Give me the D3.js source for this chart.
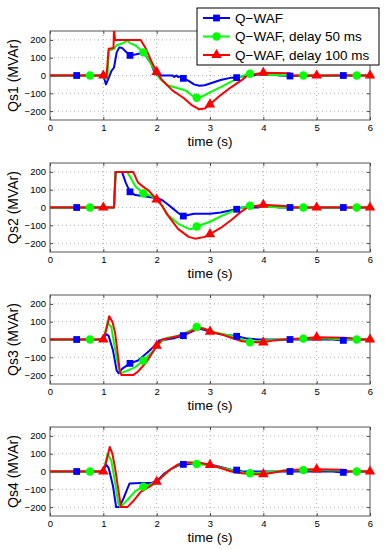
<!DOCTYPE html>
<html lang="en">
    <head>
        <meta charset="utf-8"/>
        <script src="https://d3js.org/d3.v7.min.js"></script>
        <style>
            body { margin: 0; background: #fff; }
            text { font-family: "Liberation Sans", Arial, sans-serif; fill: #000; }
        </style>
    </head>
    <body>
        <div id="chart"></div>
    </body>
    <script>
        // values, [time (s), Q (MVAr)]
        var seriesNames = ["Q\u2212WAF", "Q\u2212WAF, delay 50 ms", "Q\u2212WAF, delay 100 ms"];
        var panelLabels = ["Qs1 (MVAr)", "Qs2 (MVAr)", "Qs3 (MVAr)", "Qs4 (MVAr)"];
        var xTicks = [0, 1, 2, 3, 4, 5, 6];
        var yTicks = [-200, -100, 0, 100, 200];
        var blueMarks = [0.5, 1.5, 2.5, 3.5, 4.5, 5.5];
        var greenMarks = [0.75, 1.75, 2.75, 3.75, 4.75, 5.75];
        var redMarks = [1, 2, 3, 4, 5, 6];

        var qs1Blue = [[0,0],[0.5,0],[1.0,0],[1.05,-50],[1.1,-15],[1.15,25],[1.2,45],[1.25,130],[1.3,158],[1.35,155],[1.4,140],[1.5,113],[1.6,118],[1.7,125],[1.8,110],[1.9,65],[1.95,25],[2.0,2],[2.05,0],[2.3,0],[2.33,-8],[2.37,0],[2.4,-8],[2.45,-5],[2.5,-16],[2.6,-30],[2.7,-50],[2.8,-58],[2.9,-55],[3.0,-45],[3.2,-25],[3.4,-12],[3.5,-12],[3.6,-5],[3.8,0],[3.9,5],[4.2,5],[4.3,0],[4.5,-3],[5.5,0],[6,0]];
        var qs1Green = [[0,0],[0.75,0],[1.0,0],[1.05,-20],[1.08,0],[1.1,140],[1.2,150],[1.25,170],[1.35,180],[1.45,195],[1.5,182],[1.6,170],[1.75,130],[1.85,90],[1.95,35],[2.05,-15],[2.2,-55],[2.4,-72],[2.55,-85],[2.65,-110],[2.75,-125],[2.85,-118],[3.0,-95],[3.2,-65],[3.4,-35],[3.6,-5],[3.7,8],[3.75,10],[4.0,5],[4.3,3],[4.35,0],[4.75,0],[5.75,0],[6,0]];
        var qs1Red = [[0,0],[1.0,0],[1.03,-10],[1.06,0],[1.1,150],[1.19,155],[1.2,260],[1.22,200],[1.5,200],[1.7,200],[1.8,150],[1.9,80],[2.0,20],[2.1,-25],[2.3,-85],[2.5,-125],[2.65,-165],[2.8,-190],[2.9,-186],[3.0,-162],[3.2,-110],[3.4,-65],[3.6,-25],[3.7,0],[4.0,15],[4.5,12],[4.55,0],[5,0],[6,0]];

        var qs2Blue = [[0,0],[0.5,0],[1.2,0],[1.23,200],[1.35,200],[1.42,140],[1.5,88],[1.6,70],[1.8,62],[2.0,52],[2.1,42],[2.2,20],[2.3,-5],[2.4,-30],[2.5,-48],[2.7,-35],[3.0,-35],[3.2,-28],[3.4,-15],[3.5,-10],[3.6,0],[3.9,0],[4.0,8],[4.2,5],[4.3,0],[4.5,0],[5.5,0],[6,0]];
        var qs2Green = [[0,0],[0.75,0],[1.2,0],[1.23,200],[1.45,200],[1.6,120],[1.75,79],[1.9,65],[2.0,45],[2.1,10],[2.2,-40],[2.4,-90],[2.6,-120],[2.65,-122],[2.75,-107],[3.0,-80],[3.2,-50],[3.5,-10],[3.7,5],[3.75,10],[4.0,5],[4.3,0],[4.75,0],[5.75,0],[6,0]];
        var qs2Red = [[0,0],[1.0,0],[1.2,0],[1.23,200],[1.56,200],[1.65,140],[1.75,116],[1.85,95],[2.0,45],[2.1,10],[2.2,-40],[2.4,-120],[2.6,-165],[2.72,-175],[2.9,-165],[3.0,-150],[3.2,-115],[3.4,-70],[3.6,-20],[3.7,0],[4.0,15],[4.3,10],[4.5,5],[4.55,0],[5,0],[6,0]];

        var qs3Blue = [[0,0],[0.5,0],[1.0,0],[1.05,30],[1.1,20],[1.18,-60],[1.25,-175],[1.29,-190],[1.35,-165],[1.5,-134],[1.65,-118],[1.8,-80],[1.95,-40],[2.05,-5],[2.3,5],[2.5,22],[2.7,50],[2.8,62],[3.0,45],[3.2,30],[3.5,18],[3.7,5],[3.9,0],[4.5,0],[5.3,0],[5.5,-5],[5.6,0],[6,0]];
        var qs3Green = [[0,0],[0.75,0],[1.0,0],[1.08,95],[1.15,70],[1.2,-20],[1.28,-150],[1.32,-190],[1.45,-175],[1.6,-155],[1.75,-119],[1.95,-60],[2.1,-8],[2.2,10],[2.4,20],[2.6,45],[2.75,70],[2.9,60],[3.1,40],[3.4,20],[3.6,0],[3.75,-16],[4.0,-5],[4.3,0],[4.75,5],[5.2,5],[5.5,0],[5.75,0],[6,0]];
        var qs3Red = [[0,0],[1.0,0],[1.06,60],[1.11,131],[1.17,100],[1.22,40],[1.27,-80],[1.31,-180],[1.34,-200],[1.56,-200],[1.65,-180],[1.8,-130],[1.95,-60],[2.0,-35],[2.1,0],[2.2,5],[2.4,20],[2.6,40],[2.8,65],[2.9,60],[3.0,44],[3.2,30],[3.4,10],[3.5,0],[3.6,-10],[3.8,-15],[4.0,-16],[4.2,-5],[4.4,0],[4.7,5],[5.0,12],[5.5,10],[5.7,5],[5.8,0],[6,0]];

        var qs4Blue = [[0,0],[0.5,0],[1.0,0],[1.05,40],[1.1,20],[1.18,-80],[1.24,-200],[1.3,-200],[1.38,-150],[1.49,-68],[1.7,-65],[1.9,-65],[2.0,-55],[2.15,-10],[2.25,10],[2.45,40],[2.5,40],[2.7,45],[3.0,40],[3.2,25],[3.4,10],[3.5,8],[3.6,0],[4.5,0],[5.3,0],[5.5,-5],[5.6,0],[6,0]];
        var qs4Green = [[0,0],[0.75,0],[1.0,0],[1.08,100],[1.15,60],[1.22,-60],[1.28,-180],[1.32,-200],[1.45,-160],[1.6,-110],[1.75,-85],[1.9,-70],[2.05,-45],[2.25,10],[2.45,45],[2.6,50],[2.75,42],[3.0,35],[3.3,15],[3.5,0],[3.7,-10],[3.75,-10],[4.0,-5],[4.4,5],[4.75,8],[5.5,5],[5.75,0],[6,0]];
        var qs4Red = [[0,0],[1.0,0],[1.06,60],[1.12,138],[1.17,100],[1.22,20],[1.28,-100],[1.33,-200],[1.45,-200],[1.55,-170],[1.7,-115],[1.85,-88],[2.0,-58],[2.1,-30],[2.25,10],[2.4,40],[2.6,50],[2.8,50],[3.0,37],[3.2,20],[3.4,0],[3.6,-10],[3.8,-15],[4.0,-15],[4.2,-5],[4.4,5],[4.6,10],[5.0,12],[5.5,10],[5.6,0],[6,0]];

        var panels = [
            [qs1Blue, qs1Green, qs1Red],
            [qs2Blue, qs2Green, qs2Red],
            [qs3Blue, qs3Green, qs3Red],
            [qs4Blue, qs4Green, qs4Red]
        ];
        var markTimes = [blueMarks, greenMarks, redMarks];
        var colors = ["#0000ff", "#00ff00", "#ff0000"];
        var symbols = [d3.symbolSquare, d3.symbolCircle, d3.symbolTriangle];
        var symbolSizes = [46, 55, 48];

        var width = 388, height = 550;
        var left = 50, plotW = 320, plotH = 89;
        var tops = [31, 163, 295, 427];

        var svg = d3.select("#chart")
            .append("svg")
                .attr("width", width)
                .attr("height", height)

        var x = d3.scaleLinear()
            .domain([0, 6])
            .range([0, plotW])

        var y = d3.scaleLinear()
            .domain([-250, 250])
            .range([plotH, 0])

        var line = d3.line()
            .x(function (d) { return x(d[0]); })
            .y(function (d) { return y(d[1]); })

        svg.append("defs").append("clipPath")
            .attr("id", "plotclip")
            .append("rect")
                .attr("width", plotW)
                .attr("height", plotH)

        panels.forEach(function (series, p) {
            var g = svg.append("g")
                .attr("transform", "translate(" + left + "," + tops[p] + ")")

            // dotted grid
            g.append("g").selectAll("line")
                .data(xTicks.slice(1, -1))
                .enter().append("line")
                .attr("x1", function (d) { return x(d); })
                .attr("x2", function (d) { return x(d); })
                .attr("y1", 0).attr("y2", plotH)
                .attr("stroke", "#b0b0b0")
                .attr("stroke-dasharray", "1,3")
            g.append("g").selectAll("line")
                .data(yTicks)
                .enter().append("line")
                .attr("y1", function (d) { return y(d); })
                .attr("y2", function (d) { return y(d); })
                .attr("x1", 0).attr("x2", plotW)
                .attr("stroke", "#b0b0b0")
                .attr("stroke-dasharray", "1,3")

            g.append("g")
                .attr("transform", "translate(0," + plotH + ")")
                .call(d3.axisBottom(x).tickValues(xTicks).tickSize(-3).tickPadding(4)
                    .tickFormat(d3.format("d")))
            g.append("g")
                .call(d3.axisLeft(y).tickValues(yTicks).tickSize(-3).tickPadding(4)
                    .tickFormat(function (d) { return d < 0 ? "\u2212" + Math.abs(d) : d; }))
            g.append("g")
                .call(d3.axisTop(x).tickValues(xTicks).tickSize(-3).tickFormat(""))
            g.append("g")
                .attr("transform", "translate(" + plotW + ",0)")
                .call(d3.axisRight(y).tickValues(yTicks).tickSize(-3).tickFormat(""))
            g.selectAll(".domain").remove()
            g.selectAll(".tick line").attr("stroke", "#444")
            g.selectAll(".tick text").style("font-size", "9.5px").style("font-family", "'Liberation Sans', Arial, sans-serif")

            g.append("rect")
                .attr("width", plotW)
                .attr("height", plotH)
                .attr("fill", "none")
                .attr("stroke", "#555")

            var plot = g.append("g").attr("clip-path", "url(#plotclip)")
            series.forEach(function (data, s) {
                plot.append("path")
                    .datum(data)
                    .attr("fill", "none")
                    .attr("stroke", colors[s])
                    .attr("stroke-width", 2)
                    .attr("stroke-linejoin", "round")
                    .attr("d", line)
            })
            series.forEach(function (data, s) {
                var pts = data.filter(function (d) { return markTimes[s].indexOf(d[0]) >= 0; })
                g.append("g").selectAll("path")
                    .data(pts)
                    .enter().append("path")
                    .attr("transform", function (d) { return "translate(" + x(d[0]) + "," + y(d[1]) + ")"; })
                    .attr("d", d3.symbol().type(symbols[s]).size(symbolSizes[s]))
                    .attr("fill", colors[s])
            })

            g.append("text")
                .attr("transform", "translate(-37," + (plotH / 2) + ") rotate(-90)")
                .attr("text-anchor", "middle")
                .attr("dominant-baseline", "central")
                .style("font-size", "14px")
                .text(panelLabels[p])

            g.append("text")
                .attr("x", plotW / 2)
                .attr("y", plotH + 26)
                .attr("text-anchor", "middle")
                .style("font-size", "13.5px")
                .text("time (s)")
        })

        // legend
        var leg = svg.append("g").attr("transform", "translate(197,8)")
        leg.append("rect")
            .attr("width", 182)
            .attr("height", 57)
            .attr("fill", "#fff")
            .attr("stroke", "#000")
        seriesNames.forEach(function (name, i) {
            var row = leg.append("g").attr("transform", "translate(0," + (10 + i * 18.5) + ")")
            row.append("line")
                .attr("x1", 6).attr("x2", 33)
                .attr("stroke", colors[i])
                .attr("stroke-width", 2)
            row.append("path")
                .attr("transform", "translate(19.5,0)")
                .attr("d", d3.symbol().type(symbols[i]).size(symbolSizes[i]))
                .attr("fill", colors[i])
            row.append("text")
                .attr("x", 38)
                .attr("dominant-baseline", "central")
                .style("font-size", "13.5px")
                .text(name)
        })
    </script>
</html>
